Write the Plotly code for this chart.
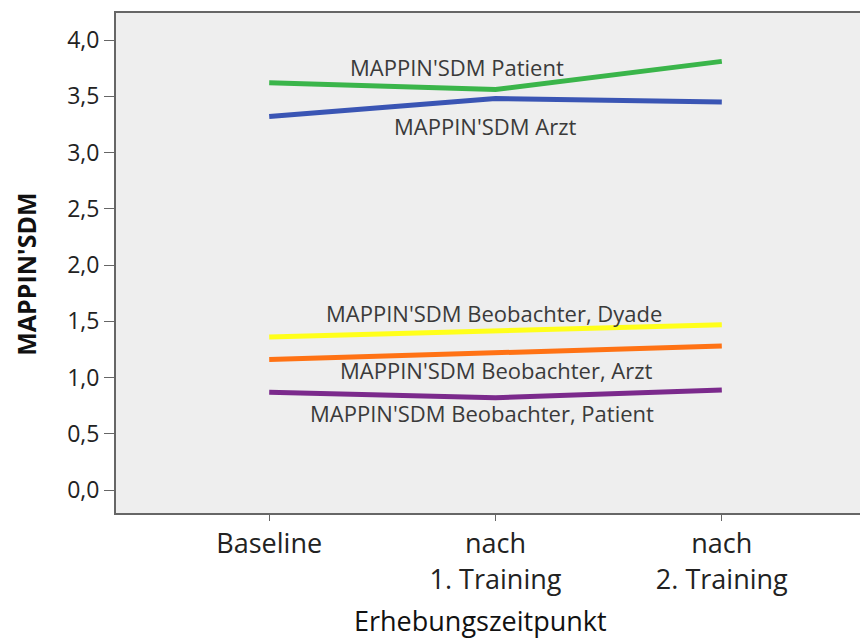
import plotly.graph_objects as go

categories = ["Baseline", "nach<br>1. Training", "nach<br>2. Training"]
series_names = [
    "MAPPIN'SDM Patient",
    "MAPPIN'SDM Arzt",
    "MAPPIN'SDM Beobachter, Dyade",
    "MAPPIN'SDM Beobachter, Arzt",
    "MAPPIN'SDM Beobachter, Patient",
]
patient = [3.62, 3.56, 3.81]
arzt = [3.32, 3.48, 3.45]
beob_dyade = [1.36, 1.41, 1.47]
beob_arzt = [1.16, 1.22, 1.28]
beob_patient = [0.87, 0.82, 0.89]
series_values = [patient, arzt, beob_dyade, beob_arzt, beob_patient]
colors = ["#3ab54a", "#3a55b4", "#ffff1a", "#ff7214", "#7b2a8c"]
label_pos = [(0.83, 3.76), (0.955, 3.24), (0.995, 1.575), (1.005, 1.07), (0.94, 0.685)]
y_ticks = [0.0, 0.5, 1.0, 1.5, 2.0, 2.5, 3.0, 3.5, 4.0]

xidx = list(range(len(categories)))
fig = go.Figure()
for name, vals, col in zip(series_names, series_values, colors):
    fig.add_trace(go.Scatter(x=xidx, y=vals, mode="lines", name=name,
                             line=dict(color=col, width=5)))
for name, (lx, ly) in zip(series_names, label_pos):
    fig.add_annotation(x=lx, y=ly, text=name, showarrow=False,
                       font=dict(size=22, color="#3a3a3a", family="Open Sans"))

# axis titles as annotations
fig.add_annotation(xref="paper", yref="paper", x=-0.12, y=0.478, xanchor="center", yanchor="middle",
                   text="<b>MAPPIN'SDM</b>", textangle=-90, showarrow=False,
                   font=dict(size=25, color="#111", family="Open Sans"))
fig.add_annotation(xref="paper", yref="paper", x=0.485, y=-0.214, xanchor="center", yanchor="middle",
                   text="Erhebungszeitpunkt", showarrow=False,
                   font=dict(size=27, color="#111", family="Open Sans"))

fig.update_layout(
    width=860, height=634,
    margin=dict(l=108, r=0, t=5, b=129),
    paper_bgcolor="white", plot_bgcolor="#eeeeee",
    showlegend=False,
    separators=",.",
    font=dict(family="Open Sans", color="#222"),
)
fig.update_xaxes(
    range=[-0.677, 2.646], tickvals=xidx, ticktext=categories,
    showgrid=False, zeroline=False, automargin=False,
    showline=True, linecolor="#666", linewidth=2, mirror=True,
    ticks="outside", ticklen=6, tickcolor="#666",
    tickfont=dict(size=27, color="#222"),
)
fig.update_yaxes(
    range=[-0.204, 4.24], tickvals=y_ticks, tickformat=".1f",
    showgrid=False, zeroline=False, automargin=False,
    showline=True, linecolor="#666", linewidth=2, mirror=False,
    ticks="outside", ticklen=10, tickcolor="#666",
    tickfont=dict(size=23, color="#222"),
)
fig.write_html("out.html")
